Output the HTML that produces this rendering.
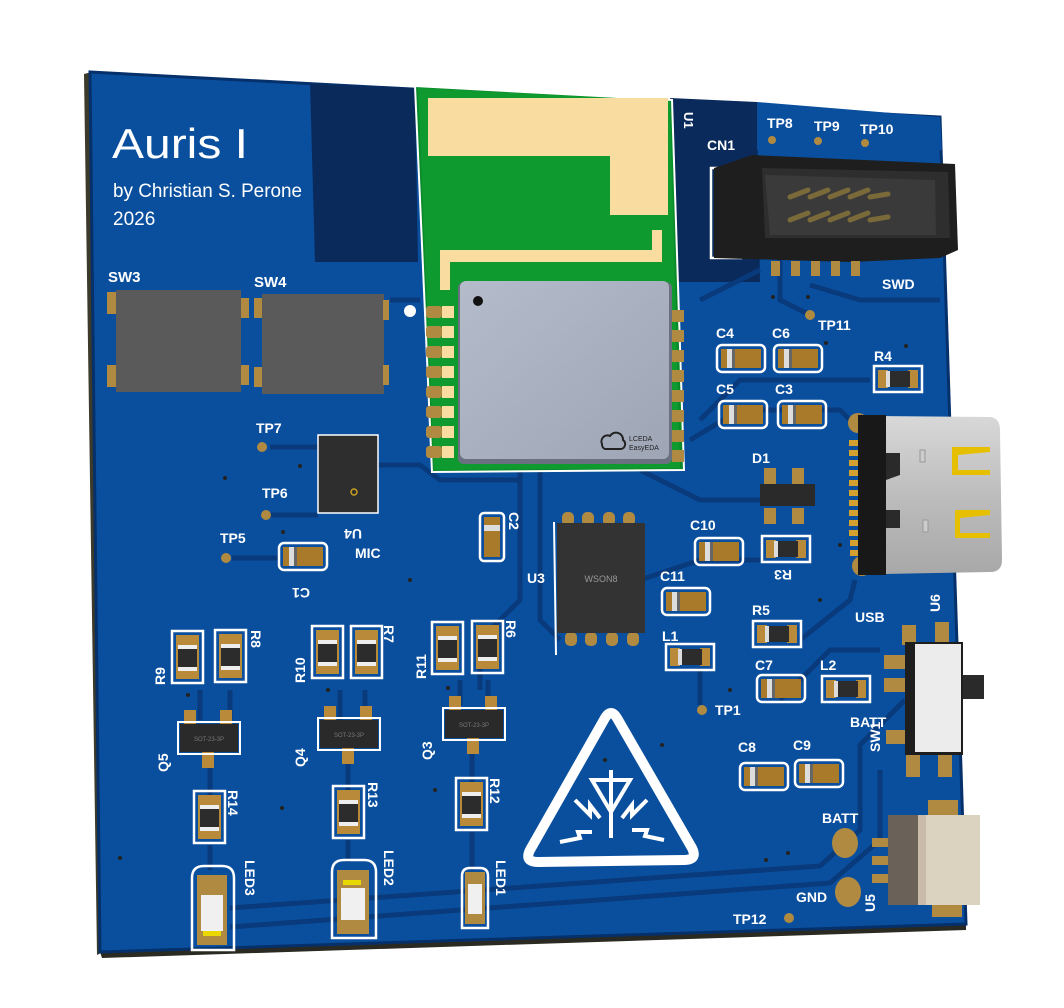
<!DOCTYPE html>
<html><head><meta charset="utf-8"><style>
html,body{margin:0;padding:0;background:#fff;}
svg{display:block}
text{font-family:"Liberation Sans",sans-serif;font-weight:bold;fill:#fff;}
</style></head><body>
<svg width="1064" height="1008" viewBox="0 0 1064 1008" xmlns="http://www.w3.org/2000/svg">
<defs>
<linearGradient id="can" x1="0" y1="0" x2="1" y2="1"><stop offset="0" stop-color="#b4bccb"/><stop offset="1" stop-color="#9ea6b6"/></linearGradient>
<linearGradient id="usb" x1="0" y1="0" x2="0" y2="1"><stop offset="0" stop-color="#d8d8d8"/><stop offset="0.5" stop-color="#bdbdbd"/><stop offset="1" stop-color="#a8a8a8"/></linearGradient>
<g id="cap"><rect x="-2" y="-2" width="48" height="27" rx="5" fill="none" stroke="#fff" stroke-width="2.5"/><rect x="2" y="2" width="40" height="19" fill="#a87a2a"/><rect x="8" y="2" width="5" height="19" fill="#ddd"/><rect x="13" y="2" width="3" height="19" fill="#666"/></g>
<g id="res"><rect x="-2" y="-2" width="48" height="26" fill="none" stroke="#fff" stroke-width="2.5"/><rect x="2" y="2" width="10" height="18" fill="#b88a3a"/><rect x="32" y="2" width="10" height="18" fill="#b88a3a"/><rect x="10" y="3" width="24" height="16" fill="#2c2c2c"/><rect x="10" y="3" width="4" height="16" fill="#ddd"/></g>
<g id="vres"><rect x="-2" y="-2" width="31" height="52" fill="none" stroke="#fff" stroke-width="2.5"/><rect x="2" y="2" width="23" height="44" fill="#b88a3a"/><rect x="4" y="12" width="19" height="26" fill="#2c2c2c"/><rect x="4" y="12" width="19" height="4" fill="#eee"/><rect x="4" y="34" width="19" height="4" fill="#eee"/></g>
<g id="sot"><rect x="4" y="-14" width="12" height="16" fill="#b88a3a"/><rect x="40" y="-14" width="12" height="16" fill="#b88a3a"/><rect x="22" y="26" width="12" height="18" fill="#b88a3a"/><rect x="-2" y="-2" width="62" height="32" fill="none" stroke="#fff" stroke-width="2"/><rect x="0" y="0" width="58" height="28" fill="#2a2a2a"/><text x="29" y="17" font-size="6" style="fill:#777;font-weight:normal" text-anchor="middle">SOT-23-3P</text></g>
</defs>

<polygon points="84,74 92,72 103,952 97,955" fill="#3c3a2a"/>
<polygon points="100,952 966,924 966,930 102,958" fill="#2a2a22"/>
<polygon points="90,72 940,117 966,924 100,952" fill="#0a4f9e"/>
<polygon points="90,72 940,117 966,924 100,952" fill="none" stroke="#06306a" stroke-width="3"/>
<polygon points="310,84 415,88 418,262 315,262" fill="#0b2a5c"/>
<polygon points="670,98 757,102 760,282 672,282" fill="#0b2a5c"/>
<polygon points="757,102 940,117 942,150 757,150" fill="#0a4f9e"/>

<g fill="none" stroke="#083a7c" stroke-width="5">
<path d="M230,927 L830,883 L880,840 L880,770"/>
<path d="M230,908 L820,866 L860,830 L860,745 L905,700"/>
<path d="M520,470 L520,600 L480,640 L480,690"/>
<path d="M540,470 L540,620 L560,640"/>
<path d="M360,465 L420,465 L440,480 L520,480"/>
<path d="M270,447 L318,447"/>
<path d="M270,515 L318,515"/>
<path d="M232,558 L279,558"/>
<path d="M640,470 L700,500 L760,500"/>
<path d="M690,440 L740,410 L840,410 L850,420"/>
<path d="M700,420 L740,380 L870,380"/>
<path d="M780,260 L780,300 L810,315"/>
<path d="M810,285 L860,300 L940,300"/>
<path d="M700,300 L760,270"/>
<path d="M640,580 L700,560 L760,560"/>
<path d="M700,670 L700,705"/>
<path d="M800,640 L850,600 L855,580"/>
<path d="M780,700 L830,650 L880,650"/>
<path d="M390,300 L420,300"/>
<path d="M200,690 L200,720"/><path d="M230,690 L230,720"/>
<path d="M340,690 L340,720"/><path d="M365,690 L365,720"/>
<path d="M460,680 L460,705"/><path d="M488,680 L488,705"/>
<path d="M210,760 L210,795"/><path d="M348,750 L348,790"/><path d="M472,740 L472,782"/>
<path d="M210,845 L210,870"/><path d="M348,840 L348,862"/><path d="M472,832 L472,870"/>
</g>
<g fill="#222"><circle cx="225" cy="478" r="2"/><circle cx="300" cy="466" r="2"/><circle cx="410" cy="580" r="2"/><circle cx="662" cy="745" r="2"/><circle cx="766" cy="860" r="2"/><circle cx="788" cy="853" r="2"/><circle cx="188" cy="695" r="2"/><circle cx="328" cy="690" r="2"/><circle cx="448" cy="688" r="2"/><circle cx="730" cy="690" r="2"/><circle cx="826" cy="343" r="2"/><circle cx="808" cy="297" r="2"/><circle cx="773" cy="297" r="2"/><circle cx="906" cy="346" r="2"/><circle cx="820" cy="600" r="2"/><circle cx="840" cy="545" r="2"/><circle cx="283" cy="532" r="2"/><circle cx="120" cy="858" r="2"/><circle cx="282" cy="808" r="2"/><circle cx="435" cy="790" r="2"/><circle cx="605" cy="760" r="2"/></g>

<text x="112" y="158" font-size="42" textLength="136" lengthAdjust="spacingAndGlyphs" style="font-weight:normal">Auris I</text>
<text x="113" y="197" font-size="19" textLength="189" lengthAdjust="spacingAndGlyphs" style="font-weight:normal">by Christian S. Perone</text>
<text x="113" y="225" font-size="19" style="font-weight:normal">2026</text>

<text x="108" y="282" font-size="15">SW3</text>
<text x="254" y="287" font-size="15">SW4</text>
<rect x="107" y="292" width="10" height="22" fill="#b08a40"/><rect x="107" y="365" width="10" height="22" fill="#b08a40"/>
<rect x="241" y="298" width="8" height="20" fill="#b08a40"/><rect x="241" y="365" width="8" height="20" fill="#b08a40"/>
<rect x="116" y="290" width="125" height="102" fill="#5a5a5a"/>
<rect x="254" y="298" width="10" height="20" fill="#b08a40"/><rect x="254" y="367" width="10" height="20" fill="#b08a40"/>
<rect x="262" y="294" width="122" height="100" fill="#5a5a5a"/>
<rect x="383" y="300" width="6" height="20" fill="#b08a40"/><rect x="383" y="365" width="6" height="20" fill="#b08a40"/>
<circle cx="410" cy="311" r="6" fill="#fff"/>

<polygon points="415,86 672,100 684,470 432,472" fill="#0a8a2a" stroke="#fff" stroke-width="2"/>
<polygon points="418,88 670,101 680,468 434,470" fill="#0e9a2e"/>
<rect x="428" y="98" width="240" height="58" fill="#f8dca0"/>
<rect x="610" y="150" width="58" height="65" fill="#f8dca0"/>
<rect x="440" y="250" width="222" height="12" fill="#f8dca0"/>
<rect x="440" y="250" width="10" height="40" fill="#f8dca0"/>
<rect x="652" y="230" width="10" height="30" fill="#f8dca0"/>
<g fill="#b08a40">
<rect x="426" y="306" width="16" height="12" rx="3"/><rect x="426" y="326" width="16" height="12" rx="3"/><rect x="426" y="346" width="16" height="12" rx="3"/><rect x="426" y="366" width="16" height="12" rx="3"/><rect x="426" y="386" width="16" height="12" rx="3"/><rect x="426" y="406" width="16" height="12" rx="3"/><rect x="426" y="426" width="16" height="12" rx="3"/><rect x="426" y="446" width="16" height="12" rx="3"/>
<rect x="672" y="310" width="12" height="12"/><rect x="672" y="330" width="12" height="12"/><rect x="672" y="350" width="12" height="12"/><rect x="672" y="370" width="12" height="12"/><rect x="672" y="390" width="12" height="12"/><rect x="672" y="410" width="12" height="12"/><rect x="672" y="430" width="12" height="12"/><rect x="672" y="450" width="12" height="12"/>
</g>
<g fill="#f8dca0"><rect x="442" y="306" width="12" height="12"/><rect x="442" y="326" width="12" height="12"/><rect x="442" y="346" width="12" height="12"/><rect x="442" y="366" width="12" height="12"/><rect x="442" y="386" width="12" height="12"/><rect x="442" y="406" width="12" height="12"/><rect x="442" y="426" width="12" height="12"/><rect x="442" y="446" width="12" height="12"/></g>
<rect x="458" y="282" width="214" height="182" rx="6" fill="#6a7080"/>
<rect x="460" y="281" width="209" height="178" rx="6" fill="url(#can)"/>
<circle cx="478" cy="301" r="5" fill="#111"/>
<path d="M602,444 a6,6 0 0 1 8,-8 a7,7 0 0 1 13,4 a5,5 0 0 1 -2,9 l-16,0 a5,5 0 0 1 -3,-5z" fill="none" stroke="#222" stroke-width="2"/>
<text x="629" y="441" font-size="7" style="fill:#222;font-weight:normal">LCEDA</text>
<text x="629" y="450" font-size="7" style="fill:#222;font-weight:normal">EasyEDA</text>
<text x="684" y="112" font-size="13" transform="rotate(90 684 112)">U1</text>

<text x="707" y="150" font-size="14">CN1</text>
<text x="767" y="128" font-size="14">TP8</text><text x="814" y="131" font-size="14">TP9</text><text x="860" y="134" font-size="14">TP10</text>
<circle cx="772" cy="140" r="4" fill="#b08a40"/><circle cx="818" cy="141" r="4" fill="#b08a40"/><circle cx="865" cy="143" r="4" fill="#b08a40"/>
<rect x="711" y="168" width="30" height="90" fill="none" stroke="#fff" stroke-width="2.5"/>
<polygon points="714,168 752,155 955,164 958,250 940,258 850,262 714,258" fill="#1e1e1e"/>
<polygon points="762,168 948,172 950,238 765,238" fill="#2e2e2e"/>
<polygon points="765,175 935,180 936,235 770,235" fill="#3a3a3a"/>
<g stroke="#7a6a3a" stroke-width="5" stroke-linecap="round">
<line x1="790" y1="197" x2="808" y2="190"/><line x1="810" y1="197" x2="828" y2="190"/><line x1="830" y1="197" x2="848" y2="190"/><line x1="850" y1="197" x2="868" y2="190"/><line x1="870" y1="197" x2="888" y2="194"/>
<line x1="790" y1="220" x2="808" y2="213"/><line x1="810" y1="220" x2="828" y2="213"/><line x1="830" y1="220" x2="848" y2="213"/><line x1="850" y1="220" x2="868" y2="213"/><line x1="870" y1="220" x2="888" y2="217"/>
</g>
<g fill="#b08a40"><rect x="771" y="261" width="9" height="15"/><rect x="791" y="261" width="9" height="15"/><rect x="811" y="261" width="9" height="15"/><rect x="831" y="261" width="9" height="15"/><rect x="851" y="261" width="9" height="15"/></g>
<text x="882" y="289" font-size="14">SWD</text>
<circle cx="810" cy="315" r="5" fill="#b08a40"/><text x="818" y="330" font-size="14">TP11</text>

<text x="716" y="338" font-size="14">C4</text><text x="772" y="338" font-size="14">C6</text>
<use href="#cap" x="719" y="347"/><use href="#cap" x="776" y="347"/>
<text x="716" y="394" font-size="14">C5</text><text x="775" y="394" font-size="14">C3</text>
<use href="#cap" x="721" y="403"/><use href="#cap" x="780" y="403"/>
<text x="874" y="361" font-size="14">R4</text>
<use href="#res" x="876" y="368"/>

<circle cx="858" cy="423" r="10" fill="#b08a40"/><circle cx="862" cy="566" r="10" fill="#b08a40"/>
<g fill="#d4a030"><rect x="849" y="440" width="10" height="6"/><rect x="849" y="450" width="10" height="6"/><rect x="849" y="460" width="10" height="6"/><rect x="849" y="470" width="10" height="6"/><rect x="849" y="480" width="10" height="6"/><rect x="849" y="490" width="10" height="6"/><rect x="849" y="500" width="10" height="6"/><rect x="849" y="510" width="10" height="6"/><rect x="849" y="520" width="10" height="6"/><rect x="849" y="530" width="10" height="6"/><rect x="850" y="540" width="10" height="6"/><rect x="850" y="550" width="10" height="6"/></g>
<path d="M880,416 L990,417 Q1000,418 1000,430 L1002,560 Q1002,572 990,572 L885,574 Z" fill="url(#usb)"/>
<rect x="858" y="415" width="28" height="160" fill="#181818"/>
<polygon points="886,453 900,453 900,475 886,480" fill="#2a2a2a"/>
<polygon points="886,510 900,510 900,528 886,528" fill="#2a2a2a"/>
<polygon points="952,447 990,447 990,452 958,455 958,470 990,470 990,475 952,475" fill="#e6c000"/>
<polygon points="955,510 990,510 990,515 960,518 960,533 990,533 990,538 955,538" fill="#e6c000"/>
<rect x="920" y="450" width="5" height="12" fill="#ccc" stroke="#999"/><rect x="923" y="520" width="5" height="12" fill="#ccc" stroke="#999"/>
<text x="940" y="612" font-size="14" transform="rotate(-90 940 612)">U6</text>

<text x="752" y="463" font-size="14">D1</text>
<rect x="764" y="468" width="12" height="16" fill="#b08a40"/><rect x="792" y="468" width="12" height="16" fill="#b08a40"/>
<rect x="764" y="508" width="12" height="16" fill="#b08a40"/><rect x="792" y="508" width="12" height="16" fill="#b08a40"/>
<rect x="760" y="484" width="55" height="22" fill="#2a2a2a"/>
<text x="690" y="530" font-size="14">C10</text>
<use href="#cap" x="697" y="540"/>
<use href="#res" x="764" y="538"/>
<text x="808" y="570" font-size="14" transform="rotate(180 800 570)">R3</text>

<g fill="#b08a40"><rect x="562" y="512" width="12" height="14" rx="5"/><rect x="582" y="512" width="12" height="14" rx="5"/><rect x="603" y="512" width="12" height="14" rx="5"/><rect x="623" y="512" width="12" height="14" rx="5"/>
<rect x="565" y="632" width="12" height="14" rx="5"/><rect x="585" y="632" width="12" height="14" rx="5"/><rect x="606" y="632" width="12" height="14" rx="5"/><rect x="627" y="632" width="12" height="14" rx="5"/></g>
<line x1="554" y1="522" x2="556" y2="655" stroke="#fff" stroke-width="2"/>
<rect x="557" y="523" width="88" height="110" fill="#333"/>
<text x="601" y="582" font-size="9" text-anchor="middle" style="fill:#999;font-weight:normal">WSON8</text>
<text x="527" y="583" font-size="14">U3</text>
<rect x="480" y="513" width="24" height="48" rx="4" fill="none" stroke="#fff" stroke-width="2.5"/>
<rect x="484" y="517" width="16" height="40" fill="#a87a2a"/><rect x="484" y="525" width="16" height="6" fill="#ddd"/>
<text x="509" y="512" font-size="14" transform="rotate(90 509 512)">C2</text>

<text x="660" y="581" font-size="14">C11</text>
<use href="#cap" x="664" y="590"/>
<text x="662" y="641" font-size="14">L1</text>
<use href="#res" x="668" y="646"/>
<circle cx="702" cy="710" r="5" fill="#b08a40"/><text x="715" y="715" font-size="14">TP1</text>
<text x="752" y="615" font-size="14">R5</text>
<use href="#res" x="755" y="623"/>
<text x="755" y="670" font-size="14">C7</text>
<use href="#cap" x="759" y="677"/>
<text x="820" y="670" font-size="14">L2</text>
<use href="#res" x="824" y="678"/>
<text x="855" y="622" font-size="14">USB</text>
<text x="850" y="727" font-size="14">BATT</text>
<text x="880" y="752" font-size="14" transform="rotate(-90 880 752)">SW1</text>

<g fill="#b08a40"><rect x="902" y="625" width="14" height="20"/><rect x="935" y="622" width="14" height="20"/><rect x="884" y="655" width="24" height="14"/><rect x="884" y="678" width="24" height="14"/><rect x="886" y="730" width="22" height="14"/><rect x="906" y="755" width="14" height="22"/><rect x="938" y="755" width="14" height="22"/></g>
<rect x="962" y="675" width="22" height="24" fill="#2a2a2a"/>
<rect x="905" y="642" width="58" height="113" fill="#1e1e1e"/>
<rect x="915" y="644" width="46" height="108" fill="#ececec"/>

<text x="738" y="752" font-size="14">C8</text><text x="793" y="750" font-size="14">C9</text>
<use href="#cap" x="742" y="765"/><use href="#cap" x="797" y="762"/>

<path d="M605,718 Q611,708 617,718 L692,848 Q698,860 684,860 L538,862 Q524,862 530,850 Z" fill="none" stroke="#fff" stroke-width="10" stroke-linejoin="round"/>
<g stroke="#fff" stroke-width="4" fill="none">
<line x1="611" y1="770" x2="611" y2="838"/><path d="M592,780 L630,780 L611,812 Z"/>
<path d="M575,800 L590,815 L590,805 L600,818"/><path d="M647,800 L632,815 L632,805 L622,818"/>
<path d="M560,842 L580,838 L578,832 L592,832"/><path d="M664,840 L645,836 L647,830 L632,830"/>
</g>

<text x="822" y="823" font-size="14">BATT</text>
<ellipse cx="845" cy="843" rx="13" ry="15" fill="#b08a40"/>
<ellipse cx="848" cy="892" rx="13" ry="15" fill="#b08a40"/>
<text x="796" y="902" font-size="14">GND</text>
<circle cx="789" cy="918" r="5" fill="#b08a40"/>
<text x="733" y="924" font-size="14">TP12</text>
<text x="875" y="912" font-size="14" transform="rotate(-90 875 912)">U5</text>
<rect x="928" y="800" width="30" height="16" fill="#b08a40"/><rect x="932" y="905" width="30" height="12" fill="#b08a40"/>
<g fill="#b08a40"><rect x="872" y="838" width="18" height="9"/><rect x="872" y="856" width="18" height="9"/><rect x="872" y="874" width="18" height="9"/></g>
<rect x="888" y="815" width="92" height="90" fill="#dcd2c0"/>
<rect x="888" y="815" width="30" height="90" fill="#6a6258"/>
<rect x="918" y="815" width="8" height="90" fill="#c8bca8"/>

<text x="256" y="433" font-size="14">TP7</text><circle cx="262" cy="447" r="5" fill="#b08a40"/>
<text x="262" y="498" font-size="14">TP6</text><circle cx="266" cy="515" r="5" fill="#b08a40"/>
<text x="220" y="543" font-size="14">TP5</text><circle cx="226" cy="558" r="5" fill="#b08a40"/>
<rect x="318" y="435" width="60" height="78" fill="#2e2e2e" stroke="#fff" stroke-width="1.5"/>
<circle cx="354" cy="492" r="3" fill="none" stroke="#c9a020" stroke-width="1.5"/>
<text x="378" y="519" font-size="14" transform="rotate(180 370 524)">U4</text>
<text x="355" y="558" font-size="14">MIC</text>
<use href="#cap" x="281" y="545"/>
<text x="330" y="578" font-size="14" transform="rotate(180 320 583)">C1</text>

<use href="#vres" x="174" y="633"/><use href="#vres" x="217" y="632"/>
<text x="165" y="685" font-size="14" transform="rotate(-90 165 685)">R9</text>
<text x="251" y="630" font-size="14" transform="rotate(90 251 630)">R8</text>
<use href="#sot" x="180" y="724"/>
<text x="168" y="772" font-size="14" transform="rotate(-90 168 772)">Q5</text>
<use href="#vres" x="196" y="793"/>
<text x="228" y="790" font-size="14" transform="rotate(90 228 790)">R14</text>

<use href="#vres" x="314" y="628"/><use href="#vres" x="353" y="628"/>
<text x="305" y="683" font-size="14" transform="rotate(-90 305 683)">R10</text>
<text x="384" y="625" font-size="14" transform="rotate(90 384 625)">R7</text>
<use href="#sot" x="320" y="720"/>
<text x="305" y="767" font-size="14" transform="rotate(-90 305 767)">Q4</text>
<use href="#vres" x="335" y="788"/>
<text x="368" y="782" font-size="14" transform="rotate(90 368 782)">R13</text>

<use href="#vres" x="434" y="624"/><use href="#vres" x="474" y="623"/>
<text x="426" y="679" font-size="14" transform="rotate(-90 426 679)">R11</text>
<text x="506" y="620" font-size="14" transform="rotate(90 506 620)">R6</text>
<use href="#sot" x="445" y="710"/>
<text x="432" y="760" font-size="14" transform="rotate(-90 432 760)">Q3</text>
<use href="#vres" x="458" y="780"/>
<text x="490" y="778" font-size="14" transform="rotate(90 490 778)">R12</text>

<path d="M192,950 L192,878 Q192,866 204,866 L222,866 Q234,866 234,878 L234,950 Z" fill="none" stroke="#fff" stroke-width="2.5"/>
<rect x="197" y="875" width="30" height="70" fill="#b08a40"/><rect x="201" y="895" width="22" height="36" fill="#f0f0f0"/><rect x="203" y="931" width="18" height="5" fill="#e8d800"/>
<text x="245" y="860" font-size="14" transform="rotate(90 245 860)">LED3</text>
<path d="M332,938 L332,872 Q332,860 344,860 L364,860 Q376,860 376,872 L376,938 Z" fill="none" stroke="#fff" stroke-width="2.5"/>
<rect x="337" y="870" width="32" height="64" fill="#b08a40"/><rect x="341" y="888" width="24" height="32" fill="#f0f0f0"/><rect x="343" y="880" width="18" height="5" fill="#e8d800"/>
<text x="384" y="850" font-size="14" transform="rotate(90 384 850)">LED2</text>
<path d="M462,928 L462,876 Q462,868 470,868 L480,868 Q488,868 488,876 L488,928 Z" fill="none" stroke="#fff" stroke-width="2.5"/>
<rect x="465" y="872" width="20" height="52" fill="#b08a40"/><rect x="468" y="884" width="14" height="30" fill="#f0f0f0"/>
<text x="496" y="860" font-size="14" transform="rotate(90 496 860)">LED1</text>
</svg>
</body></html>
